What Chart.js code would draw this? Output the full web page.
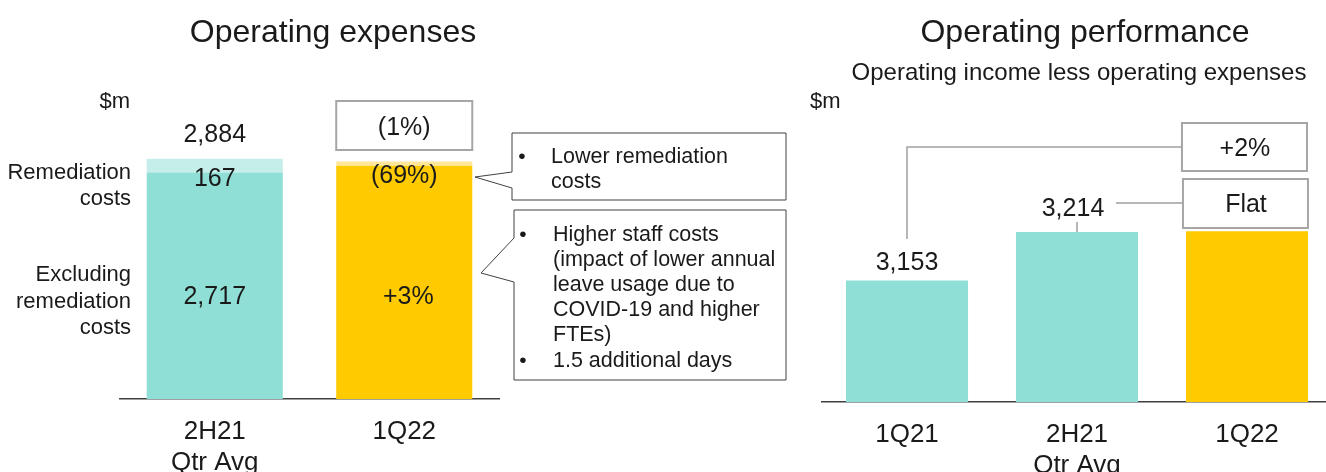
<!DOCTYPE html>
<html>
<head>
<meta charset="utf-8">
<script src="https://cdn.jsdelivr.net/npm/chart.js@4/dist/chart.umd.min.js"></script>
<style>
  html, body { margin: 0; padding: 0; background: #fff; overflow: hidden; }
  #wrap { position: relative; width: 1326px; height: 472px; }
  canvas { position: absolute; top: 0; }
  #expChart { left: 0; }
  #perfChart { left: 800px; }
</style>
</head>
<body>
<div id="wrap">
  <canvas id="expChart" width="800" height="472"></canvas>
  <canvas id="perfChart" width="540" height="472"></canvas>
</div>
<script>
// Operating expenses ($m)
const expenseCategories = [['2H21', 'Qtr Avg'], '1Q22'];
const exclRemediation = [2717, 2799];
const remediation = [167, 52];
const exclChangeLabel = '+3%';
const remediationChangeLabel = '(69%)';
const totalChangeLabel = '(1%)';

// Operating performance ($m)
const perfCategories = ['1Q21', ['2H21', 'Qtr Avg'], '1Q22'];
const perfValues = [3153, 3214, 3215];
const perfChangeLabels = ['+2%', 'Flat'];

const FONT = "'Liberation Sans', Arial, sans-serif";
const TEXT = '#1a1a1a';
const TEAL = '#8fdfd7', TEAL_LIGHT = '#c5eeea';
const GOLD = '#ffcb00', GOLD_LIGHT = '#ffe699';

const fmt = v => v.toLocaleString('en-US');

// canvas 'middle' sits a touch high compared to the slide text
function text(ctx, str, x, y, size, align) {
    ctx.font = size + 'px ' + FONT;
    ctx.fillStyle = TEXT;
    ctx.textAlign = align || 'center';
    ctx.textBaseline = 'middle';
    ctx.fillText(str, x, y + 2);
}

function box(ctx, x, y, w, h, color, lw) {
    ctx.fillStyle = '#fff';
    ctx.fillRect(x, y, w, h);
    ctx.strokeStyle = color;
    ctx.lineWidth = lw;
    ctx.strokeRect(x, y, w, h);
}

// callout with a pointer on its left side
function callout(ctx, pts) {
    ctx.beginPath();
    ctx.moveTo(pts[0][0], pts[0][1]);
    pts.slice(1).forEach(p => ctx.lineTo(p[0], p[1]));
    ctx.closePath();
    ctx.fillStyle = '#fff';
    ctx.fill();
    ctx.strokeStyle = '#404040';
    ctx.lineWidth = 1;
    ctx.stroke();
}

const expenseNotes = {
    id: 'expenseNotes',
    afterDatasetsDraw(chart) {
        const ctx = chart.ctx;
        const left = chart.scales.x.left;
        const excl = chart.getDatasetMeta(0).data;
        const rem = chart.getDatasetMeta(1).data;
        ctx.save();
        text(ctx, 'Operating expenses', 333, 31, 32);
        text(ctx, '$m', left + 10, 100, 22, 'right');

        ['Remediation', 'costs'].forEach((s, i) => text(ctx, s, left + 11, 171 + i * 26, 22, 'right'));
        ['Excluding', 'remediation', 'costs'].forEach((s, i) => text(ctx, s, left + 11, 273 + i * 26.5, 22, 'right'));

        text(ctx, fmt(exclRemediation[0] + remediation[0]), rem[0].x, rem[0].y - 26, 25);
        text(ctx, fmt(remediation[0]), rem[0].x, rem[0].y + 18, 25);
        text(ctx, remediationChangeLabel, rem[1].x, rem[1].y + 13, 25);
        text(ctx, fmt(exclRemediation[0]), excl[0].x, excl[0].base - 104, 25);
        text(ctx, exclChangeLabel, excl[1].x + 4, excl[1].base - 104, 25);

        const w = rem[1].width;
        box(ctx, rem[1].x - w / 2, 101, w, 49, '#a6a6a6', 2);
        text(ctx, totalChangeLabel, rem[1].x, 126, 25);

        callout(ctx, [[512, 133], [786, 133], [786, 200], [512, 200], [512, 188], [475, 177], [512, 172]]);
        text(ctx, '•', 522, 155, 21);
        ['Lower remediation', 'costs'].forEach((s, i) => text(ctx, s, 551, 155 + i * 25, 21.5, 'left'));

        callout(ctx, [[514, 210], [786, 210], [786, 380], [514, 380], [514, 282], [481, 273], [514, 238]]);
        text(ctx, '•', 523, 233, 21);
        ['Higher staff costs', '(impact of lower annual', 'leave usage due to', 'COVID-19 and higher', 'FTEs)']
            .forEach((s, i) => text(ctx, s, 553, 233 + i * 25, 21.5, 'left'));
        text(ctx, '•', 523, 359, 21);
        text(ctx, '1.5 additional days', 553, 359, 21.5, 'left');
        ctx.restore();
    }
};

const perfNotes = {
    id: 'perfNotes',
    afterDatasetsDraw(chart) {
        const ctx = chart.ctx;
        const bars = chart.getDatasetMeta(0).data;
        ctx.save();
        text(ctx, 'Operating performance', 285, 31, 32);
        text(ctx, 'Operating income less operating expenses', 279, 71, 24);
        text(ctx, '$m', 10, 100, 22, 'left');

        text(ctx, fmt(perfValues[0]), bars[0].x, bars[0].y - 19, 25);
        text(ctx, fmt(perfValues[1]), bars[1].x - 4, bars[1].y - 25, 25);

        // connectors
        ctx.strokeStyle = '#a0a0a0';
        ctx.lineWidth = 1.5;
        const bx = bars[2].x - bars[2].width / 2 - 4;
        ctx.beginPath();
        ctx.moveTo(bars[0].x, 239);
        ctx.lineTo(bars[0].x, 147);
        ctx.lineTo(bx, 147);
        ctx.moveTo(bars[1].x, 222);
        ctx.lineTo(bars[1].x, bars[1].y);
        ctx.moveTo(316, 203);
        ctx.lineTo(bx + 1, 203);
        ctx.stroke();

        box(ctx, bx, 123, 125, 48, '#a6a6a6', 2);
        text(ctx, perfChangeLabels[0], bx + 63, 147, 25);
        box(ctx, bx + 1, 179, 125, 49, '#a6a6a6', 2);
        text(ctx, perfChangeLabels[1], bx + 64, 203, 25);
        ctx.restore();
    }
};

function xAxis(height, pad) {
    return {
        stacked: true,
        grid: { display: false, drawTicks: false },
        border: { display: true, color: '#404040', width: 1.5 },
        ticks: { color: TEXT, font: { family: FONT, size: 26 }, padding: pad, maxRotation: 0 },
        afterFit: scale => { scale.height = height; }
    };
}

new Chart(document.getElementById('expChart'), {
    type: 'bar',
    data: {
        labels: expenseCategories,
        datasets: [
            { label: 'Excluding remediation costs', data: exclRemediation, backgroundColor: [TEAL, GOLD] },
            { label: 'Remediation costs', data: remediation, backgroundColor: [TEAL_LIGHT, GOLD_LIGHT] }
        ]
    },
    options: {
        responsive: false,
        animation: false,
        layout: { padding: { left: 120, right: 301, top: 99, bottom: 0 } },
        datasets: { bar: { categoryPercentage: 1, barPercentage: 0.718 } },
        plugins: { legend: { display: false }, tooltip: { enabled: false } },
        scales: {
            x: xAxis(73, 17),
            y: { stacked: true, display: false, min: 0, max: 3600 }
        }
    },
    plugins: [expenseNotes]
});

new Chart(document.getElementById('perfChart'), {
    type: 'bar',
    data: {
        labels: perfCategories,
        datasets: [
            { label: 'Operating performance', data: perfValues, backgroundColor: [TEAL, TEAL, GOLD] }
        ]
    },
    options: {
        responsive: false,
        animation: false,
        layout: { padding: { left: 22, right: 8, top: 100, bottom: 0 } },
        datasets: { bar: { categoryPercentage: 1, barPercentage: 0.718 } },
        plugins: { legend: { display: false }, tooltip: { enabled: false } },
        scales: {
            x: xAxis(70, 17),
            y: { display: false, min: 3000, max: 3380 }
        }
    },
    plugins: [perfNotes]
});
</script>
</body>
</html>
